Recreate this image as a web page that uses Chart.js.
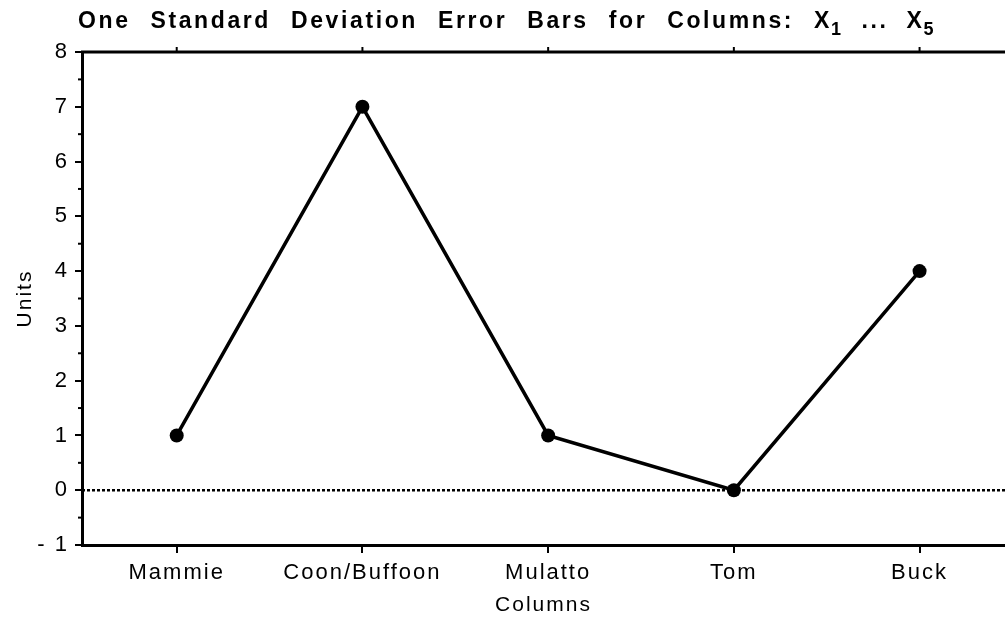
<!DOCTYPE html>
<html>
<head>
<meta charset="utf-8">
<script src="https://cdn.jsdelivr.net/npm/chart.js@4.4.0/dist/chart.umd.min.js"></script>
<style>
  html, body { margin: 0; padding: 0; background: #fff; }
  #wrap { width: 1005px; height: 626px; }
</style>
</head>
<body>
<div id="wrap"><canvas id="myChart" width="1005" height="626"></canvas></div>
<script>
// data
const categories = ['Mammie', 'Coon/Buffoon', 'Mulatto', 'Tom', 'Buck'];
const values = [1, 7, 1, 0, 4];
const yTicks = [-1, 0, 1, 2, 3, 4, 5, 6, 7, 8];
const titleWords = ['One', 'Standard', 'Deviation', 'Error', 'Bars', 'for', 'Columns:'];

const FONT = '"Liberation Sans", Arial, Helvetica, sans-serif';

// title, top border, minor ticks, zero line
const extras = {
  id: 'extras',
  beforeDraw(chart) {
    chart.ctx.letterSpacing = '2px';
  },
  afterDraw(chart) {
    const ctx = chart.ctx;
    const x = chart.scales.x;
    const y = chart.scales.y;
    const area = chart.chartArea;
    ctx.save();
    ctx.strokeStyle = '#000';

    // top border with small upward ticks
    ctx.lineWidth = 3;
    ctx.beginPath();
    ctx.moveTo(area.left - 1, area.top);
    ctx.lineTo(area.right, area.top);
    ctx.stroke();
    ctx.lineWidth = 2;
    categories.forEach((c, i) => {
      const px = x.getPixelForValue(i);
      ctx.beginPath();
      ctx.moveTo(px, area.top);
      ctx.lineTo(px, area.top - 5);
      ctx.stroke();
    });

    // minor ticks on y axis
    for (let v = -0.5; v < 8; v += 1) {
      const py = y.getPixelForValue(v);
      ctx.beginPath();
      ctx.moveTo(area.left, py);
      ctx.lineTo(area.left - 4, py);
      ctx.stroke();
    }

    // dotted zero line
    ctx.lineWidth = 2.5;
    ctx.setLineDash([3, 2]);
    const zy = y.getPixelForValue(0);
    ctx.beginPath();
    ctx.moveTo(area.left, zy);
    ctx.lineTo(area.right, zy);
    ctx.stroke();
    ctx.setLineDash([]);

    // title with subscripts
    ctx.fillStyle = '#000';
    ctx.textBaseline = 'alphabetic';
    ctx.textAlign = 'left';
    ctx.letterSpacing = '2.6px';
    ctx.font = 'bold 23px ' + FONT;
    let tx = 78;
    const base = 28;
    const gap = 20;
    titleWords.forEach(w => {
      ctx.fillText(w, tx, base);
      tx += ctx.measureText(w).width + gap;
    });
    const sub = (s) => {
      ctx.font = 'bold 23px ' + FONT;
      ctx.fillText('X', tx, base);
      tx += ctx.measureText('X').width - 1;
      ctx.font = 'bold 18px ' + FONT;
      ctx.fillText(s, tx, base + 7);
      tx += ctx.measureText(s).width + gap;
    };
    sub('1');
    ctx.font = 'bold 23px ' + FONT;
    ctx.fillText('...', tx - 2, base);
    tx += ctx.measureText('...').width + gap - 4;
    sub('5');
    ctx.restore();
  }
};

const chartData = {
  datasets: [{
    data: categories.map((c, i) => ({ x: i, y: values[i] })),
    borderColor: '#000',
    backgroundColor: '#000',
    borderWidth: 3.5,
    pointRadius: 7,
    pointBackgroundColor: '#000',
    pointBorderWidth: 0,
    tension: 0,
    clip: false
  }]
};

new Chart(document.getElementById('myChart'), {
  type: 'line',
  data: chartData,
  plugins: [extras],
  options: {
    responsive: false,
    animation: false,
    events: [],
    layout: { autoPadding: false, padding: { top: 52, right: 0, left: 0, bottom: 0 } },
    plugins: {
      legend: { display: false },
      tooltip: { enabled: false },
      title: { display: false }
    },
    scales: {
      x: {
        type: 'linear',
        min: -0.51,
        max: 4.46,
        afterBuildTicks: (s) => { s.ticks = categories.map((c, i) => ({ value: i })); },
        afterFit: (s) => { s.height = 81; },
        ticks: {
          color: '#000',
          font: { family: FONT, size: 22 },
          padding: 7,
          maxRotation: 0,
          autoSkip: false,
          callback: (v) => categories[v]
        },
        grid: {
          drawOnChartArea: false,
          drawTicks: true,
          tickLength: 8,
          color: '#000',
          lineWidth: 2
        },
        border: { display: true, color: '#000', width: 3 },
        title: {
          display: true,
          text: 'Columns',
          color: '#000',
          font: { family: FONT, size: 21 },
          padding: { top: 0, bottom: 8 }
        }
      },
      y: {
        min: -1,
        max: 8,
        afterBuildTicks: (s) => { s.ticks = yTicks.map(v => ({ value: v })); },
        afterFit: (s) => { s.width = 82; },
        ticks: {
          color: '#000',
          font: { family: FONT, size: 22 },
          padding: 6,
          callback: (v) => v < 0 ? '- ' + Math.abs(v) : String(v)
        },
        grid: {
          drawOnChartArea: false,
          drawTicks: true,
          tickLength: 7,
          color: '#000',
          lineWidth: 2
        },
        border: { display: true, color: '#000', width: 3 },
        title: {
          display: true,
          text: 'Units',
          color: '#000',
          font: { family: FONT, size: 21 },
          padding: { top: 13, bottom: 0 }
        }
      }
    }
  }
});
</script>
</body>
</html>
